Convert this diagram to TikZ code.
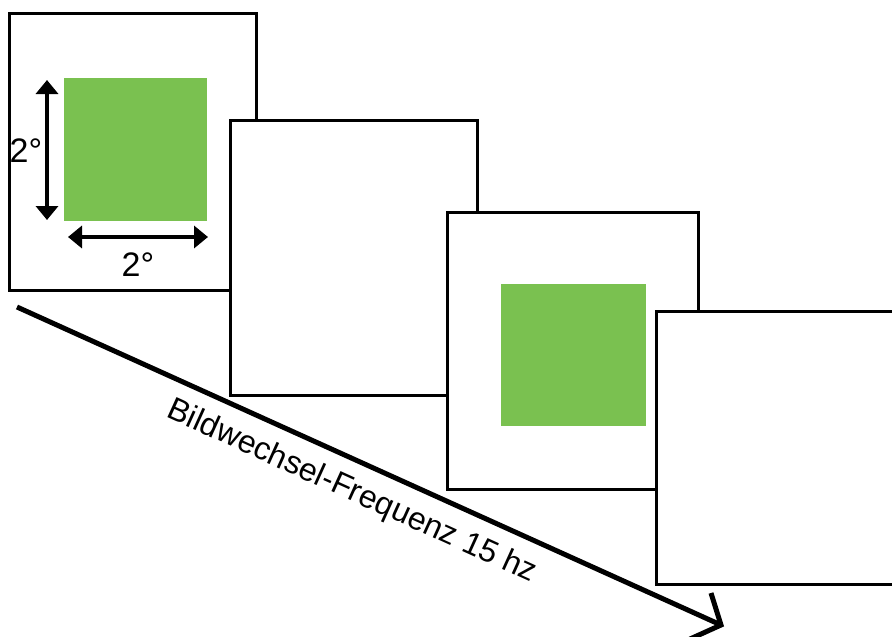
\documentclass[tikz,border=0pt]{standalone}
\usepackage{fontspec}
\setmainfont{Liberation Sans}
\usetikzlibrary{arrows.meta}
\definecolor{stimgreen}{RGB}{122,193,80}
\begin{document}
\begin{tikzpicture}[x=1pt,y=-1pt,
  frame/.style={draw=black, line width=3pt, fill=white, inner sep=0pt, outer sep=0pt},
  stim/.style={fill=stimgreen, inner sep=0pt, outer sep=0pt},
  dimarrow/.style={line width=4pt, {Triangle[width=22pt,length=14pt]}-{Triangle[width=22pt,length=14pt]}},
  lbl/.style={font=\fontsize{34}{38}\selectfont, inner sep=0pt},
  timeline/.style={line width=5pt},
]
\useasboundingbox (0,0) rectangle (892,637);
% frame 1
\node[frame, minimum width=247pt, minimum height=277pt] (f1) at (132.5,151.5) {};
\node[stim, minimum width=143pt, minimum height=143pt] (g1) at (135.5,149.5) {};
\coordinate (vtop) at (47,80);
\coordinate (vbot) at (47,220);
\coordinate (hleft) at (68,237);
\coordinate (hright) at (208,237);
\draw[dimarrow] (vtop) -- (vbot);
\draw[dimarrow] (hleft) -- (hright);
\node[lbl] (l1) at (26,150.5) {2°};
\node[lbl] (l2) at (138,265) {2°};
% frame 2
\node[frame, minimum width=247pt, minimum height=275pt] (f2) at (353.5,257.5) {};
% frame 3
\node[frame, minimum width=251pt, minimum height=277pt] (f3) at (572.5,350.5) {};
\node[stim, minimum width=145pt, minimum height=142pt] (g2) at (573.5,355) {};
% frame 4
\node[frame, minimum width=250pt, minimum height=273pt] (f4) at (781,447.5) {};
% time line
\coordinate (tstart) at (17,307);
\coordinate (tend) at (721,625);
\coordinate (barbA) at (711,593);
\coordinate (barbB) at (690,639);
\draw[timeline] (tstart) -- (tend);
\draw[timeline] (barbA) -- (tend) -- (barbB);
\node[font=\fontsize{32}{36}\selectfont, rotate=-24.4, inner sep=0pt] (freq) at (352,492) {Bildwechsel-Frequenz 15 hz};
\end{tikzpicture}
\end{document}
